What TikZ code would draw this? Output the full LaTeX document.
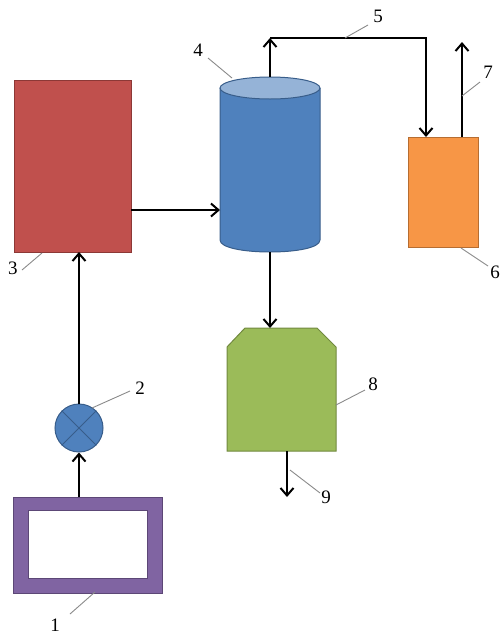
\documentclass[tikz,border=0pt]{standalone}
\usepackage{fontspec}
\setmainfont{Liberation Serif}
\usetikzlibrary{arrows.meta,calc}
\definecolor{redc}{HTML}{C0504D}\definecolor{redd}{HTML}{8C3836}
\definecolor{bluec}{HTML}{4F81BD}\definecolor{blued}{HTML}{385D8A}
\definecolor{bluel}{HTML}{95B3D7}
\definecolor{orac}{HTML}{F79646}\definecolor{orad}{HTML}{B66D31}
\definecolor{grnc}{HTML}{9BBB59}\definecolor{grnd}{HTML}{71893F}
\definecolor{purc}{HTML}{8064A2}\definecolor{purd}{HTML}{5C4776}
\definecolor{leadc}{HTML}{8A8A8A}
\begin{document}
\begin{tikzpicture}[x=1pt,y=-1pt,
  flow/.style={draw=black, line width=2.2pt, -{Straight Barb[length=7.5pt,width=13pt,line width=2pt]}},
  unit/.style={rectangle, inner sep=0pt, outer sep=0pt, line width=1pt},
  leader/.style={draw=leadc, line width=0.9pt},
  lbl/.style={inner sep=0pt, font=\fontsize{19}{19}\selectfont}]
\useasboundingbox (0,0) rectangle (500,638);
% heater (3)
\node[unit, fill=redc, draw=redd, minimum width=117pt, minimum height=172pt] (heater) at (72.5,166) {};
% column (4)
\fill[bluec] (220,88) -- (220,240) .. controls (220,256) and (320,256) .. (320,240) -- (320,88) -- cycle;
\draw[blued, line width=1pt] (220,88) -- (220,240) .. controls (220,256) and (320,256) .. (320,240) -- (320,88);
\draw[blued, line width=1pt, fill=bluel] (270,88) ellipse [x radius=50pt, y radius=11pt];
\node[unit, minimum width=100pt, minimum height=175pt] (column) at (270,164.5) {};
% cooler (6)
\node[unit, fill=orac, draw=orad, minimum width=70pt, minimum height=110pt] (cooler) at (443,192) {};
% separator (8)
\fill[grnc, draw=grnd, line width=1pt] (245,328) -- (317,328) -- (336,347) -- (336,451) -- (227,451) -- (227,347) -- cycle;
\node[unit, minimum width=109pt, minimum height=123pt] (sep) at (281.5,389.5) {};
% valve (2)
\node[circle, fill=bluec, draw=blued, line width=1pt, minimum size=48pt, inner sep=0pt] (valve) at (79,428) {};
\draw[blued, line width=1pt] (valve.north west) -- (valve.south east) (valve.north east) -- (valve.south west);
% source (1)
\node[unit, fill=purc, draw=purd, minimum width=149pt, minimum height=96pt] (source) at (87.5,545) {};
\node[unit, fill=white, draw=purd, minimum width=119pt, minimum height=68pt] (sourcein) at (87.5,544) {};
% connectors
\coordinate (corner) at ($(column.north)+(0,-39)$);
\coordinate (inlet) at ($(cooler.north)+(-17,0)$);
\coordinate (outlet) at ($(cooler.north)+(19,0)$);
\coordinate (out7) at ($(outlet)+(0,-95)$);
\coordinate (out9) at (287,497);
\coordinate (hout) at ($(heater.east)+(0,44)$);
\draw[flow] (valve.south |- source.north) -- (valve.south);
\draw[flow] (valve.north) -- (valve.north |- heater.south);
\draw[flow] (hout) -- (hout -| column.west);
\draw[flow] (column.north) -- (corner);
\draw[flow] (corner) -| (inlet);
\draw[flow] (outlet) -- (out7);
\draw[flow] (column.south) -- (column.south |- sep.north);
\draw[flow] (out9 |- sep.south) -- (out9);
% labels
\node[lbl] (l1) at (55,625) {1};
\node[lbl] (l2) at (140,388) {2};
\node[lbl] (l3) at (13,268) {3};
\node[lbl] (l4) at (198,50) {4};
\node[lbl] (l5) at (378,16) {5};
\node[lbl] (l6) at (495,272) {6};
\node[lbl] (l7) at (488,72) {7};
\node[lbl] (l8) at (373,384) {8};
\node[lbl] (l9) at (326,497) {9};
\draw[leader] (70,614) -- (95,592);
\draw[leader] (92,408) -- (130,391);
\draw[leader] (22,270) -- (42,253);
\draw[leader] (208,58) -- (232,78);
\draw[leader] (345,38) -- (368,25);
\draw[leader] (461,248) -- (488,266);
\draw[leader] (462,96) -- (480,82);
\draw[leader] (336,405) -- (365,390);
\draw[leader] (290,470) -- (320,493);
\end{tikzpicture}
\end{document}
